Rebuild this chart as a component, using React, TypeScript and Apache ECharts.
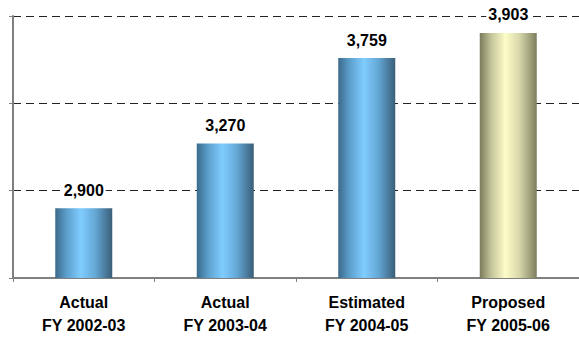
import React, { useEffect, useRef } from "react";
import * as echarts from "echarts";

const categories = ["Actual\nFY 2002-03", "Actual\nFY 2003-04", "Estimated\nFY 2004-05", "Proposed\nFY 2005-06"];
const values = [2900, 3270, 3759, 3903];
const kinds = ["blue", "blue", "blue", "khaki"];

const blueGrad = () =>
  new echarts.graphic.LinearGradient(0, 0, 1, 0, [
    { offset: 0, color: "#3b6a8a" },
    { offset: 0.2, color: "#5c9fcc" },
    { offset: 0.45, color: "#80ccff" },
    { offset: 0.7, color: "#64a8d6" },
    { offset: 1, color: "#3a5e78" },
  ]);
const khakiGrad = () =>
  new echarts.graphic.LinearGradient(0, 0, 1, 0, [
    { offset: 0, color: "#7b7b5c" },
    { offset: 0.2, color: "#c4c49a" },
    { offset: 0.45, color: "#fdfdc9" },
    { offset: 0.7, color: "#d6d6aa" },
    { offset: 1, color: "#7d7d5e" },
  ]);

export default function App() {
  const ref = useRef<HTMLDivElement>(null);
  useEffect(() => {
    if (!ref.current) return;
    const chart = echarts.init(ref.current, null, { renderer: "svg" });
    chart.setOption({
      animation: false,
      grid: { left: 13, right: 0, top: 16, bottom: 55, containLabel: false },
      xAxis: {
        type: "category",
        data: categories,
        axisLine: { lineStyle: { color: "#808080", width: 2 } },
        axisTick: { show: true, length: 4, lineStyle: { color: "#808080", width: 1 } },
        axisLabel: {
          margin: 13,
          fontSize: 16,
          fontWeight: "bold",
          lineHeight: 23,
          color: "#000",
          fontFamily: "'Liberation Sans', Arial, sans-serif",
        },
      },
      yAxis: {
        type: "value",
        min: 2500,
        max: 4000,
        interval: 500,
        axisLabel: { show: false },
        axisLine: { show: true, lineStyle: { color: "#808080", width: 2 } },
        axisTick: { show: true, length: 4, lineStyle: { color: "#808080" } },
        splitLine: { show: true, lineStyle: { color: "#222", type: [8, 5], width: 1 } },
      },
      series: [
        {
          type: "bar",
          barWidth: 57,
          data: values.map((v, i) => ({
            value: v,
            itemStyle: { color: kinds[i] === "blue" ? blueGrad() : khakiGrad() },
          })),
          label: {
            show: true,
            position: "top",
            distance: 10,
            fontSize: 16,
            fontWeight: "bold",
            color: "#000",
            backgroundColor: "#fff",
            padding: [0, 2],
            fontFamily: "'Liberation Sans', Arial, sans-serif",
            formatter: (p: any) => Number(p.value).toLocaleString("en-US"),
          },
        },
      ],
    });
    return () => chart.dispose();
  }, []);
  return <div ref={ref} style={{ width: 579, height: 337, position: "absolute", left: 0, top: 0 }} />;
}
